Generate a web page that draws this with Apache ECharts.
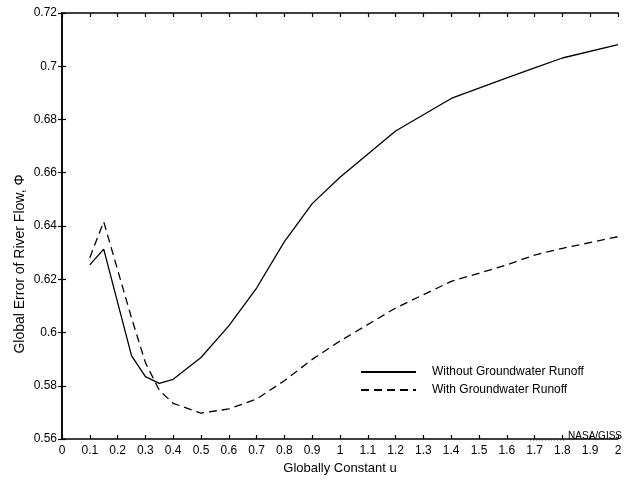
<!DOCTYPE html>
<html>
<head>
<meta charset="utf-8">
<script src="https://cdn.jsdelivr.net/npm/echarts@6/dist/echarts.min.js"></script>
<style>
html,body{margin:0;padding:0;background:#fff;}
#chart{width:625px;height:480px;}
</style>
</head>
<body>
<div id="chart"></div>
<script>
// Data
var uWithout = [0.1, 0.15, 0.25, 0.3, 0.35, 0.4, 0.5, 0.6, 0.7, 0.8, 0.9, 1.0, 1.2, 1.4, 1.6, 1.7, 1.8, 2.0];
var phiWithout = [0.6254, 0.6313, 0.5913, 0.5834, 0.5809, 0.5824, 0.5906, 0.6025, 0.6167, 0.6341, 0.6484, 0.6583, 0.6757, 0.6879, 0.6956, 0.6994, 0.7031, 0.7081];
var uWith = [0.1, 0.15, 0.25, 0.3, 0.35, 0.4, 0.5, 0.6, 0.7, 0.8, 0.9, 1.0, 1.2, 1.4, 1.6, 1.7, 1.8, 2.0];
var phiWith = [0.6281, 0.6416, 0.6055, 0.5887, 0.5783, 0.5734, 0.5697, 0.5713, 0.5750, 0.5819, 0.5899, 0.5968, 0.6092, 0.6192, 0.6254, 0.6291, 0.6316, 0.6360];
var seriesNames = ['Without Groundwater Runoff', 'With Groundwater Runoff'];
var xTickLabels = ['0','0.1','0.2','0.3','0.4','0.5','0.6','0.7','0.8','0.9','1','1.1','1.2','1.3','1.4','1.5','1.6','1.7','1.8','1.9','2'];
var yTickLabels = ['0.56','0.58','0.6','0.62','0.64','0.66','0.68','0.7','0.72'];
var xTitle = 'Globally Constant u';
var yTitle = 'Global Error of River Flow, \u03A6';
var creditText = 'NASA/GISS';

function pairs(xs, ys) { return xs.map(function (x, i) { return [x, ys[i]]; }); }

var FONT = '"Liberation Sans", Arial, Helvetica, sans-serif';
var chart = echarts.init(document.getElementById('chart'), null, {renderer: 'canvas'});
var axisLine = {show: true, lineStyle: {color: '#000', width: 1.5}};
var tick = {show: true, inside: true, length: 4, lineStyle: {color: '#000', width: 1.2}};

chart.setOption({
  animation: false,
  backgroundColor: '#fff',
  grid: {left: 62, right: 7, top: 13, bottom: 38, containLabel: false},
  xAxis: [{
    type: 'value', min: 0, max: 2, interval: 0.1, position: 'bottom',
    axisLine: axisLine, axisTick: tick, splitLine: {show: false},
    axisLabel: {color: '#000', fontFamily: FONT, fontSize: 12, margin: 6,
      formatter: function (v) { return xTickLabels[Math.round(v * 10)]; }},
    name: xTitle, nameLocation: 'middle', nameGap: 23,
    nameTextStyle: {color: '#000', fontFamily: FONT, fontSize: 13}
  }, {
    type: 'value', min: 0, max: 2, interval: 0.1, position: 'top',
    axisLine: axisLine, axisTick: tick, axisLabel: {show: false}, splitLine: {show: false}
  }],
  yAxis: [{
    type: 'value', min: 0.56, max: 0.72, interval: 0.02, position: 'left',
    axisLine: axisLine, axisTick: tick, splitLine: {show: false},
    axisLabel: {color: '#000', fontFamily: FONT, fontSize: 12, margin: 5,
      formatter: function (v) { return yTickLabels[Math.round((v - 0.56) / 0.02)]; }}
  }, {
    type: 'value', min: 0.56, max: 0.72, interval: 0.02, position: 'right',
    axisLine: axisLine, axisTick: tick, axisLabel: {show: false}, splitLine: {show: false}
  }],
  legend: {
    orient: 'vertical', left: 355, top: 361,
    itemWidth: 55, itemHeight: 14, itemGap: 6,
    data: seriesNames,
    itemStyle: {opacity: 0},
    textStyle: {color: '#000', fontFamily: FONT, fontSize: 12, padding: [0, 0, 0, 11]}
  },
  series: [{
    name: seriesNames[0], type: 'line', data: pairs(uWithout, phiWithout),
    symbol: 'none', showSymbol: false, smooth: false,
    lineStyle: {color: '#000', width: 1.3, type: 'solid'},
    itemStyle: {color: '#000'}
  }, {
    name: seriesNames[1], type: 'line', data: pairs(uWith, phiWith),
    symbol: 'none', showSymbol: false, smooth: false,
    lineStyle: {color: '#000', width: 1.3, type: [8, 5]},
    itemStyle: {color: '#000'}
  }],
  graphic: [{
    type: 'text', x: 20, y: 264, rotation: Math.PI / 2,
    style: {text: yTitle, fill: '#000', font: '14px ' + FONT, align: 'center', verticalAlign: 'middle'}
  }, {
    type: 'text', right: 3, top: 431,
    style: {text: creditText, fill: '#000', font: '10px ' + FONT}
  }, {
    type: 'line', shape: {x1: 530, y1: 440, x2: 564, y2: 440},
    style: {stroke: '#555', lineWidth: 1, lineDash: [1, 2]}
  }]
});
</script>
</body>
</html>
